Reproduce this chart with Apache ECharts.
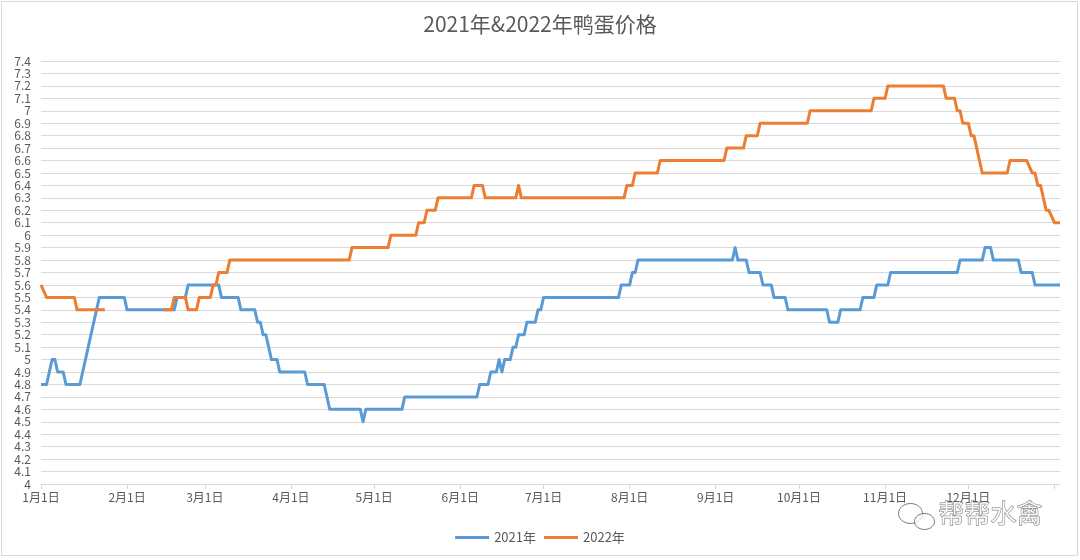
<!DOCTYPE html>
<html>
<head>
<meta charset="utf-8">
<script src="https://cdn.jsdelivr.net/npm/echarts@6/dist/echarts.min.js"></script>
<style>
html,body{margin:0;padding:0;background:#fff;}
#chart{width:1080px;height:560px;}
</style>
</head>
<body>
<div id="chart"></div>
<script>
// ---------- DATA ----------
const chartTitle = '2021年&2022年鸭蛋价格';
const seriesNames = ['2021年', '2022年'];
const monthDays = [31, 28, 31, 30, 31, 30, 31, 31, 30, 31, 30, 31];
// breakpoints: [MM-DD, price]; '13-xx' = January of the following year
const price2021 = [
  ['01-01', 4.8], ['01-03', 4.8], ['01-05', 5.0], ['01-06', 5.0], ['01-07', 4.9], ['01-09', 4.9],
  ['01-10', 4.8], ['01-15', 4.8], ['01-22', 5.5], ['01-31', 5.5], ['02-01', 5.4], ['02-18', 5.4],
  ['02-19', 5.5], ['02-22', 5.5], ['02-23', 5.6], ['03-06', 5.6], ['03-07', 5.5], ['03-13', 5.5],
  ['03-14', 5.4], ['03-19', 5.4], ['03-20', 5.3], ['03-21', 5.3], ['03-22', 5.2], ['03-23', 5.2],
  ['03-24', 5.1], ['03-25', 5.0], ['03-27', 5.0], ['03-28', 4.9], ['04-06', 4.9], ['04-07', 4.8],
  ['04-13', 4.8], ['04-15', 4.6], ['04-26', 4.6], ['04-27', 4.5], ['04-28', 4.6], ['05-11', 4.6],
  ['05-12', 4.7], ['06-07', 4.7], ['06-08', 4.8], ['06-11', 4.8], ['06-12', 4.9], ['06-14', 4.9],
  ['06-15', 5.0], ['06-16', 4.9], ['06-17', 5.0], ['06-19', 5.0], ['06-20', 5.1], ['06-21', 5.1],
  ['06-22', 5.2], ['06-24', 5.2], ['06-25', 5.3], ['06-28', 5.3], ['06-29', 5.4], ['06-30', 5.4],
  ['07-01', 5.5], ['07-28', 5.5], ['07-29', 5.6], ['08-01', 5.6], ['08-02', 5.7], ['08-03', 5.7],
  ['08-04', 5.8], ['09-07', 5.8], ['09-08', 5.9], ['09-09', 5.8], ['09-12', 5.8], ['09-13', 5.7],
  ['09-17', 5.7], ['09-18', 5.6], ['09-21', 5.6], ['09-22', 5.5], ['09-26', 5.5], ['09-27', 5.4],
  ['10-11', 5.4], ['10-12', 5.3], ['10-15', 5.3], ['10-16', 5.4], ['10-23', 5.4], ['10-24', 5.5],
  ['10-28', 5.5], ['10-29', 5.6], ['11-02', 5.6], ['11-03', 5.7], ['11-27', 5.7], ['11-28', 5.8],
  ['12-06', 5.8], ['12-07', 5.9], ['12-09', 5.9], ['12-10', 5.8], ['12-19', 5.8], ['12-20', 5.7],
  ['12-24', 5.7], ['12-25', 5.6], ['13-03', 5.6]
];
const price2022 = [
  ['01-01', 5.6], ['01-03', 5.5], ['01-13', 5.5], ['01-14', 5.4], ['01-24', 5.4], ['01-25', null],
  ['02-14', 5.4], ['02-17', 5.4], ['02-18', 5.5], ['02-22', 5.5], ['02-23', 5.4], ['02-26', 5.4],
  ['02-27', 5.5], ['03-03', 5.5], ['03-04', 5.6], ['03-05', 5.6], ['03-06', 5.7], ['03-09', 5.7],
  ['03-10', 5.8], ['04-22', 5.8], ['04-23', 5.9], ['05-06', 5.9], ['05-07', 6.0], ['05-16', 6.0],
  ['05-17', 6.1], ['05-19', 6.1], ['05-20', 6.2], ['05-23', 6.2], ['05-24', 6.3], ['06-05', 6.3],
  ['06-06', 6.4], ['06-09', 6.4], ['06-10', 6.3], ['06-21', 6.3], ['06-22', 6.4], ['06-23', 6.3],
  ['07-30', 6.3], ['07-31', 6.4], ['08-02', 6.4], ['08-03', 6.5], ['08-11', 6.5], ['08-12', 6.6],
  ['09-04', 6.6], ['09-05', 6.7], ['09-11', 6.7], ['09-12', 6.8], ['09-16', 6.8], ['09-17', 6.9],
  ['10-04', 6.9], ['10-05', 7.0], ['10-27', 7.0], ['10-28', 7.1], ['11-01', 7.1], ['11-02', 7.2],
  ['11-22', 7.2], ['11-23', 7.1], ['11-26', 7.1], ['11-27', 7.0], ['11-28', 7.0], ['11-29', 6.9],
  ['12-01', 6.9], ['12-02', 6.8], ['12-03', 6.8], ['12-06', 6.5], ['12-15', 6.5], ['12-16', 6.6],
  ['12-22', 6.6], ['12-24', 6.5], ['12-25', 6.5], ['12-26', 6.4], ['12-27', 6.4], ['12-29', 6.2],
  ['12-30', 6.2], ['13-01', 6.1], ['13-03', 6.1]
];
const extraDays = 3; // axis runs a little past Dec 31
const yMin = 4, yMax = 7.4, yStep = 0.1;

// ---------- build ----------
const monthStart = [0];
monthDays.forEach(d => monthStart.push(monthStart[monthStart.length - 1] + d));
const categories = [];
monthDays.forEach((n, m) => { for (let d = 1; d <= n; d++) categories.push((m + 1) + '月' + d + '日'); });
for (let d = 1; d <= extraDays; d++) categories.push('1月' + d + '日');
const tickSet = new Set(monthStart);
const labelSet = new Set(monthStart.slice(0, 12));
function dayIndex(s) {
  const [m, d] = s.split('-').map(Number);
  return monthStart[m - 1] + d - 1;
}
function toSeries(arr) {
  return arr.map(([s, v]) => [dayIndex(s), v === null ? '-' : v]);
}

const txt = '#595959';
const font = '"Noto Sans CJK SC", "Noto Sans", sans-serif';
const chart = echarts.init(document.getElementById('chart'), null, { renderer: 'canvas' });
chart.setOption({
  backgroundColor: '#fff',
  animation: false,
  textStyle: { fontFamily: font },
  title: {
    text: chartTitle, left: 'center', top: 14, padding: 0,
    textStyle: { fontSize: 21, fontWeight: 'normal', color: txt, fontFamily: font }
  },
  legend: {
    bottom: 11, left: 'center', itemWidth: 34, itemHeight: 3, itemGap: 8, icon: 'rect',
    textStyle: { fontSize: 13, color: txt, fontFamily: font },
    data: seriesNames
  },
  grid: { left: 41, right: 20, top: 61, bottom: 76 },
  xAxis: {
    type: 'category',
    data: categories,
    boundaryGap: false,
    axisLine: { lineStyle: { color: '#d9d9d9', width: 1 } },
    axisTick: { show: true, length: 5, interval: (i) => tickSet.has(i), lineStyle: { color: '#d9d9d9' } },
    axisLabel: { interval: (i) => labelSet.has(i), color: txt, fontSize: 12, margin: 7, fontFamily: font },
    splitLine: { show: false }
  },
  yAxis: {
    type: 'value', min: yMin, max: yMax, interval: yStep,
    axisLine: { show: false }, axisTick: { show: false },
    axisLabel: { color: txt, fontSize: 12, margin: 10, fontFamily: font,
      formatter: v => String(Math.round(v * 10) / 10) },
    splitLine: { lineStyle: { color: '#d9d9d9', width: 1 } }
  },
  series: [
    { name: seriesNames[0], type: 'line', data: toSeries(price2021), showSymbol: false, symbol: 'none',
      connectNulls: false, color: '#5B9BD5', lineStyle: { width: 3, color: '#5B9BD5', join: 'round' } },
    { name: seriesNames[1], type: 'line', data: toSeries(price2022), showSymbol: false, symbol: 'none',
      connectNulls: false, color: '#ED7D31', lineStyle: { width: 3, color: '#ED7D31', join: 'round' } }
  ],
  graphic: [
    { type: 'rect', shape: { x: 1.5, y: 1.5, width: 1076, height: 554 }, style: { fill: null, stroke: '#d9d9d9', lineWidth: 1 }, silent: true },
    { type: 'text', left: 938, top: 500, silent: true,
      style: { text: '帮帮水禽', font: '26px "Noto Sans CJK SC"', fill: 'rgba(255,255,255,0.85)', stroke: '#777', lineWidth: 1 } },
    { type: 'group', left: 898, top: 503, silent: true, children: [
      { type: 'ellipse', shape: { cx: 12, cy: 10, rx: 12, ry: 10 }, style: { fill: 'rgba(255,255,255,0.7)', stroke: '#777', lineWidth: 1 } },
      { type: 'ellipse', shape: { cx: 26, cy: 18, rx: 10, ry: 8 }, style: { fill: 'rgba(255,255,255,0.7)', stroke: '#777', lineWidth: 1 } }
    ] }
  ]
});
</script>
</body>
</html>
